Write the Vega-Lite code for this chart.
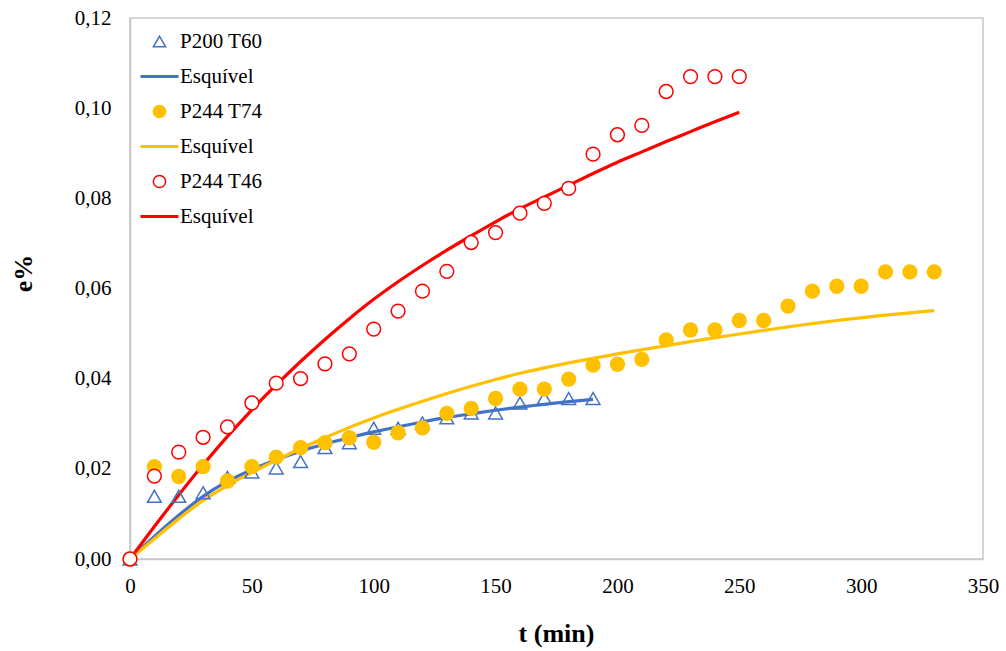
{
  "$schema": "https://vega.github.io/schema/vega-lite/v6.json",
  "width": 853,
  "height": 541,
  "autosize": {"type": "none"},
  "padding": {"left": 130, "top": 18, "right": 23, "bottom": 92},
  "background": "white",
  "config": {
    "view": {"stroke": "#C8C8C8", "strokeWidth": 1.5},
    "font": "Liberation Serif",
    "axis": {
      "grid": false,
      "ticks": false,
      "labelFlush": false,
      "domainColor": "#C8C8C8",
      "domainWidth": 1.5,
      "labelFont": "Liberation Serif",
      "labelFontSize": 21,
      "labelColor": "#000000",
      "titleFont": "Liberation Serif",
      "titleFontSize": 26,
      "titleFontWeight": "bold",
      "titleColor": "#000000"
    }
  },
  "datasets": {
    "pts": [
      {"t": 0, "v": 0, "s": "P200 T60"},
      {"t": 10, "v": 0.0139, "s": "P200 T60"},
      {"t": 20, "v": 0.0139, "s": "P200 T60"},
      {"t": 30, "v": 0.0147, "s": "P200 T60"},
      {"t": 40, "v": 0.0181, "s": "P200 T60"},
      {"t": 50, "v": 0.0193, "s": "P200 T60"},
      {"t": 60, "v": 0.0202, "s": "P200 T60"},
      {"t": 70, "v": 0.0216, "s": "P200 T60"},
      {"t": 80, "v": 0.0247, "s": "P200 T60"},
      {"t": 90, "v": 0.0258, "s": "P200 T60"},
      {"t": 100, "v": 0.029, "s": "P200 T60"},
      {"t": 110, "v": 0.029, "s": "P200 T60"},
      {"t": 120, "v": 0.0302, "s": "P200 T60"},
      {"t": 130, "v": 0.0313, "s": "P200 T60"},
      {"t": 140, "v": 0.0324, "s": "P200 T60"},
      {"t": 150, "v": 0.0324, "s": "P200 T60"},
      {"t": 160, "v": 0.0346, "s": "P200 T60"},
      {"t": 170, "v": 0.0357, "s": "P200 T60"},
      {"t": 180, "v": 0.0356, "s": "P200 T60"},
      {"t": 190, "v": 0.0356, "s": "P200 T60"},
      {"t": 0, "v": 0, "s": "P244 T74"},
      {"t": 10, "v": 0.0205, "s": "P244 T74"},
      {"t": 20, "v": 0.0183, "s": "P244 T74"},
      {"t": 30, "v": 0.0205, "s": "P244 T74"},
      {"t": 40, "v": 0.0173, "s": "P244 T74"},
      {"t": 50, "v": 0.0205, "s": "P244 T74"},
      {"t": 60, "v": 0.0226, "s": "P244 T74"},
      {"t": 70, "v": 0.0247, "s": "P244 T74"},
      {"t": 80, "v": 0.0258, "s": "P244 T74"},
      {"t": 90, "v": 0.0269, "s": "P244 T74"},
      {"t": 100, "v": 0.0259, "s": "P244 T74"},
      {"t": 110, "v": 0.028, "s": "P244 T74"},
      {"t": 120, "v": 0.0291, "s": "P244 T74"},
      {"t": 130, "v": 0.0323, "s": "P244 T74"},
      {"t": 140, "v": 0.0334, "s": "P244 T74"},
      {"t": 150, "v": 0.0356, "s": "P244 T74"},
      {"t": 160, "v": 0.0377, "s": "P244 T74"},
      {"t": 170, "v": 0.0377, "s": "P244 T74"},
      {"t": 180, "v": 0.0399, "s": "P244 T74"},
      {"t": 190, "v": 0.043, "s": "P244 T74"},
      {"t": 200, "v": 0.0432, "s": "P244 T74"},
      {"t": 210, "v": 0.0443, "s": "P244 T74"},
      {"t": 220, "v": 0.0486, "s": "P244 T74"},
      {"t": 230, "v": 0.0508, "s": "P244 T74"},
      {"t": 240, "v": 0.0508, "s": "P244 T74"},
      {"t": 250, "v": 0.0529, "s": "P244 T74"},
      {"t": 260, "v": 0.0529, "s": "P244 T74"},
      {"t": 270, "v": 0.0561, "s": "P244 T74"},
      {"t": 280, "v": 0.0594, "s": "P244 T74"},
      {"t": 290, "v": 0.0605, "s": "P244 T74"},
      {"t": 300, "v": 0.0605, "s": "P244 T74"},
      {"t": 310, "v": 0.0637, "s": "P244 T74"},
      {"t": 320, "v": 0.0637, "s": "P244 T74"},
      {"t": 330, "v": 0.0637, "s": "P244 T74"},
      {"t": 0, "v": 0, "s": "P244 T46"},
      {"t": 10, "v": 0.0184, "s": "P244 T46"},
      {"t": 20, "v": 0.0237, "s": "P244 T46"},
      {"t": 30, "v": 0.027, "s": "P244 T46"},
      {"t": 40, "v": 0.0293, "s": "P244 T46"},
      {"t": 50, "v": 0.0346, "s": "P244 T46"},
      {"t": 60, "v": 0.039, "s": "P244 T46"},
      {"t": 70, "v": 0.04, "s": "P244 T46"},
      {"t": 80, "v": 0.0433, "s": "P244 T46"},
      {"t": 90, "v": 0.0455, "s": "P244 T46"},
      {"t": 100, "v": 0.051, "s": "P244 T46"},
      {"t": 110, "v": 0.055, "s": "P244 T46"},
      {"t": 120, "v": 0.0594, "s": "P244 T46"},
      {"t": 130, "v": 0.0638, "s": "P244 T46"},
      {"t": 140, "v": 0.0702, "s": "P244 T46"},
      {"t": 150, "v": 0.0724, "s": "P244 T46"},
      {"t": 160, "v": 0.0767, "s": "P244 T46"},
      {"t": 170, "v": 0.0789, "s": "P244 T46"},
      {"t": 180, "v": 0.0822, "s": "P244 T46"},
      {"t": 190, "v": 0.0898, "s": "P244 T46"},
      {"t": 200, "v": 0.0941, "s": "P244 T46"},
      {"t": 210, "v": 0.0962, "s": "P244 T46"},
      {"t": 220, "v": 0.1037, "s": "P244 T46"},
      {"t": 230, "v": 0.107, "s": "P244 T46"},
      {"t": 240, "v": 0.107, "s": "P244 T46"},
      {"t": 250, "v": 0.107, "s": "P244 T46"}
    ],
    "fit": [
      {"t": 0, "v": 0, "s": "E1"},
      {"t": 10, "v": 0.005, "s": "E1"},
      {"t": 20, "v": 0.0097, "s": "E1"},
      {"t": 30, "v": 0.0139, "s": "E1"},
      {"t": 40, "v": 0.0172, "s": "E1"},
      {"t": 50, "v": 0.0198, "s": "E1"},
      {"t": 60, "v": 0.022, "s": "E1"},
      {"t": 70, "v": 0.0239, "s": "E1"},
      {"t": 80, "v": 0.0255, "s": "E1"},
      {"t": 90, "v": 0.0269, "s": "E1"},
      {"t": 100, "v": 0.0282, "s": "E1"},
      {"t": 110, "v": 0.0293, "s": "E1"},
      {"t": 120, "v": 0.0304, "s": "E1"},
      {"t": 130, "v": 0.0314, "s": "E1"},
      {"t": 140, "v": 0.0322, "s": "E1"},
      {"t": 150, "v": 0.033, "s": "E1"},
      {"t": 160, "v": 0.0337, "s": "E1"},
      {"t": 170, "v": 0.0343, "s": "E1"},
      {"t": 180, "v": 0.0349, "s": "E1"},
      {"t": 190, "v": 0.0354, "s": "E1"},
      {"t": 0, "v": 0, "s": "E2"},
      {"t": 10, "v": 0.0045, "s": "E2"},
      {"t": 20, "v": 0.0089, "s": "E2"},
      {"t": 30, "v": 0.013, "s": "E2"},
      {"t": 40, "v": 0.0163, "s": "E2"},
      {"t": 50, "v": 0.0192, "s": "E2"},
      {"t": 60, "v": 0.0219, "s": "E2"},
      {"t": 70, "v": 0.0245, "s": "E2"},
      {"t": 80, "v": 0.0269, "s": "E2"},
      {"t": 90, "v": 0.0292, "s": "E2"},
      {"t": 100, "v": 0.0313, "s": "E2"},
      {"t": 110, "v": 0.0332, "s": "E2"},
      {"t": 120, "v": 0.035, "s": "E2"},
      {"t": 130, "v": 0.0367, "s": "E2"},
      {"t": 140, "v": 0.0383, "s": "E2"},
      {"t": 150, "v": 0.0398, "s": "E2"},
      {"t": 160, "v": 0.0412, "s": "E2"},
      {"t": 170, "v": 0.0424, "s": "E2"},
      {"t": 180, "v": 0.0435, "s": "E2"},
      {"t": 190, "v": 0.0445, "s": "E2"},
      {"t": 200, "v": 0.0455, "s": "E2"},
      {"t": 210, "v": 0.0464, "s": "E2"},
      {"t": 220, "v": 0.0473, "s": "E2"},
      {"t": 230, "v": 0.0482, "s": "E2"},
      {"t": 240, "v": 0.0491, "s": "E2"},
      {"t": 250, "v": 0.0499, "s": "E2"},
      {"t": 260, "v": 0.0507, "s": "E2"},
      {"t": 270, "v": 0.0515, "s": "E2"},
      {"t": 280, "v": 0.0522, "s": "E2"},
      {"t": 290, "v": 0.0529, "s": "E2"},
      {"t": 300, "v": 0.0535, "s": "E2"},
      {"t": 310, "v": 0.0541, "s": "E2"},
      {"t": 320, "v": 0.0546, "s": "E2"},
      {"t": 330, "v": 0.0551, "s": "E2"},
      {"t": 0, "v": 0, "s": "E3"},
      {"t": 10, "v": 0.0072, "s": "E3"},
      {"t": 20, "v": 0.0142, "s": "E3"},
      {"t": 30, "v": 0.0209, "s": "E3"},
      {"t": 40, "v": 0.0272, "s": "E3"},
      {"t": 50, "v": 0.0331, "s": "E3"},
      {"t": 60, "v": 0.0386, "s": "E3"},
      {"t": 70, "v": 0.0438, "s": "E3"},
      {"t": 80, "v": 0.0487, "s": "E3"},
      {"t": 90, "v": 0.0533, "s": "E3"},
      {"t": 100, "v": 0.0576, "s": "E3"},
      {"t": 110, "v": 0.0615, "s": "E3"},
      {"t": 120, "v": 0.0651, "s": "E3"},
      {"t": 130, "v": 0.0685, "s": "E3"},
      {"t": 140, "v": 0.0717, "s": "E3"},
      {"t": 150, "v": 0.0748, "s": "E3"},
      {"t": 160, "v": 0.0777, "s": "E3"},
      {"t": 170, "v": 0.0803, "s": "E3"},
      {"t": 180, "v": 0.0829, "s": "E3"},
      {"t": 190, "v": 0.0855, "s": "E3"},
      {"t": 200, "v": 0.088, "s": "E3"},
      {"t": 210, "v": 0.0903, "s": "E3"},
      {"t": 220, "v": 0.0926, "s": "E3"},
      {"t": 230, "v": 0.0948, "s": "E3"},
      {"t": 240, "v": 0.097, "s": "E3"},
      {"t": 250, "v": 0.0991, "s": "E3"}
    ]
  },
  "layer": [
    {
      "data": {"name": "fit"},
      "mark": {"type": "line", "strokeWidth": 3.2, "interpolate": "monotone"},
      "encoding": {
        "x": {
          "field": "t",
          "type": "quantitative",
          "scale": {"domain": [0, 350], "nice": false},
          "axis": {
            "orient": "bottom",
            "values": [0, 50, 100, 150, 200, 250, 300, 350],
            "labelPadding": 16,
            "title": "t (min)",
            "titleX": 426,
            "titleY": 74,
            "titleBaseline": "middle"
          }
        },
        "y": {
          "field": "v",
          "type": "quantitative",
          "scale": {"domain": [0, 0.12], "nice": false},
          "axis": {
            "orient": "left",
            "values": [0, 0.02, 0.04, 0.06, 0.08, 0.1, 0.12],
            "labelExpr": "replace(format(datum.value, '.2f'), '.', ',')",
            "labelPadding": 19,
            "title": "e%",
            "titleAngle": -90,
            "titleX": -107,
            "titleY": 255,
            "titleAlign": "center",
            "titleBaseline": "middle"
          }
        },
        "color": {
          "field": "s",
          "type": "nominal",
          "scale": {
            "domain": ["P200 T60", "E1", "P244 T74", "E2", "P244 T46", "E3"],
            "range": ["#4472C4", "#4472C4", "#FFC000", "#FFC000", "#FF0000", "#FF0000"]
          },
          "legend": {
            "title": null,
            "orient": "none",
            "legendX": 19,
            "legendY": 13,
            "padding": 0,
            "symbolSize": 1444,
            "symbolType": "stroke",
            "rowPadding": 13,
            "labelOffset": 10,
            "labelFont": "Liberation Serif",
            "labelFontSize": 21,
            "labelColor": "#000000",
            "labelLimit": 300,
            "labelExpr": "datum.label == 'E1' || datum.label == 'E2' || datum.label == 'E3' ? 'Esquível' : datum.label",
            "encode": {
              "symbols": {
                "update": {
                  "shape": {"signal": "datum.value == 'P200 T60' ? 'triangle-up' : (datum.value == 'P244 T74' || datum.value == 'P244 T46') ? 'circle' : 'stroke'"},
                  "size": {"signal": "datum.value == 'P200 T60' ? 150 : (datum.value == 'P244 T74' || datum.value == 'P244 T46') ? 150 : 1444"},
                  "fill": {"signal": "datum.value == 'P244 T74' ? '#FFC000' : 'transparent'"},
                  "strokeWidth": {"signal": "(datum.value == 'E1' || datum.value == 'E2' || datum.value == 'E3') ? 3.2 : 1.5"}
                }
              }
            }
          }
        }
      }
    },
    {
      "data": {"name": "pts"},
      "mark": {"type": "point", "filled": false, "strokeWidth": 1.5, "opacity": 1, "size": 190},
      "encoding": {
        "x": {"field": "t", "type": "quantitative"},
        "y": {"field": "v", "type": "quantitative"},
        "color": {"field": "s", "type": "nominal"},
        "shape": {
          "field": "s",
          "type": "nominal",
          "scale": {
            "domain": ["P200 T60", "P244 T74", "P244 T46"],
            "range": ["triangle-up", "circle", "circle"]
          },
          "legend": null
        },
        "fill": {
          "field": "s",
          "type": "nominal",
          "scale": {
            "domain": ["P200 T60", "P244 T74", "P244 T46"],
            "range": ["transparent", "#FFC000", "#FFFFFF"]
          },
          "legend": null
        }
      }
    }
  ]
}
